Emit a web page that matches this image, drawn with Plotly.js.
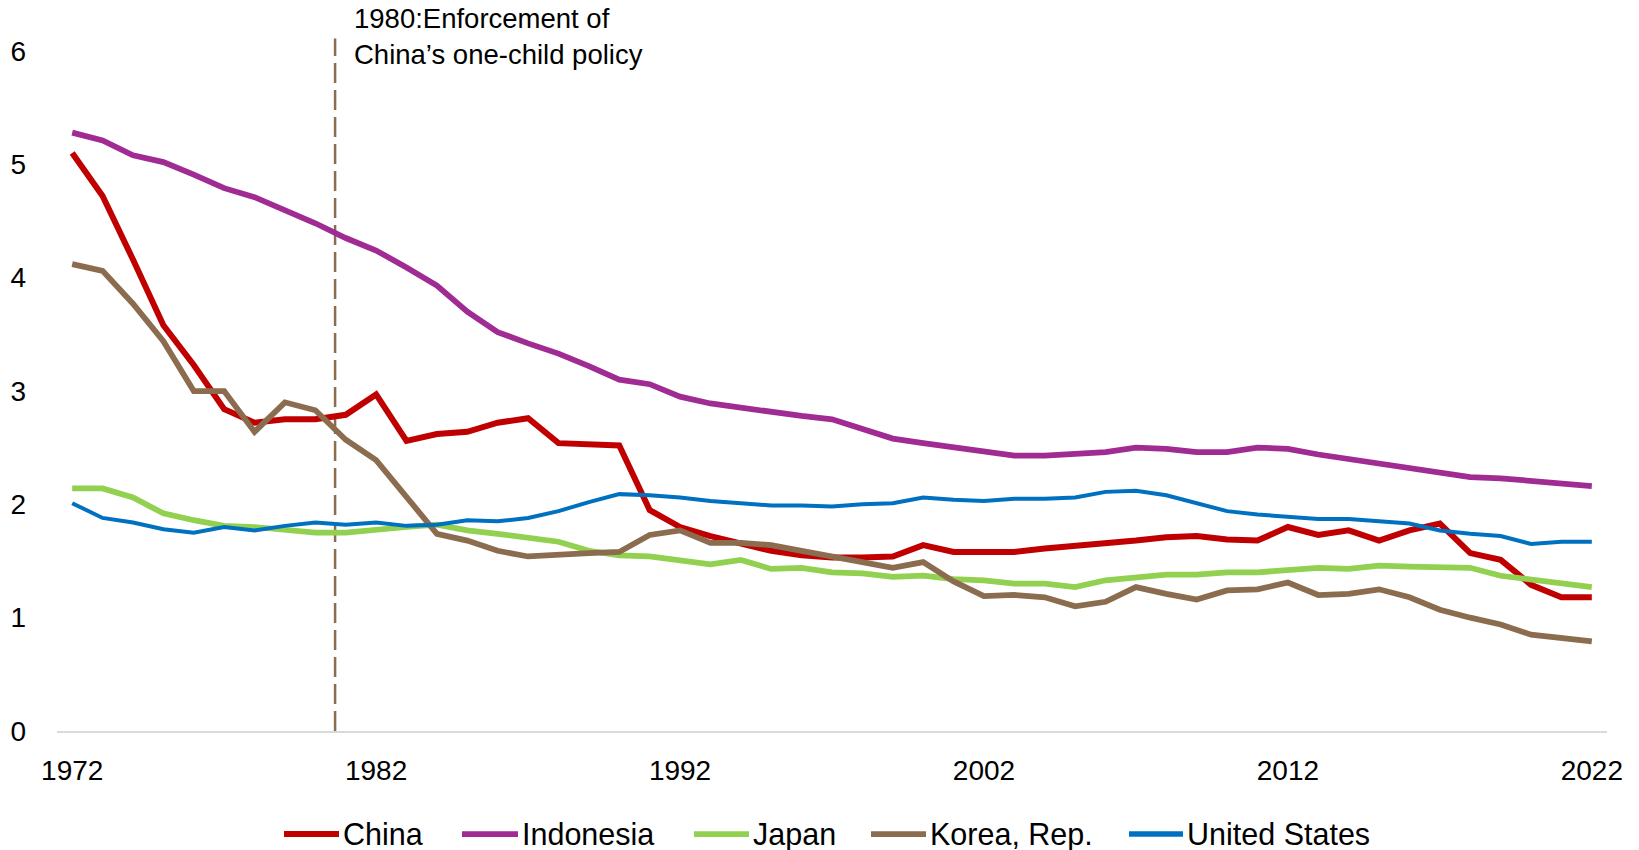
<!DOCTYPE html>
<html>
<head>
<meta charset="utf-8">
<script src="https://cdn.plot.ly/plotly-3.0.1.min.js"></script>
<style>
  html, body { margin: 0; padding: 0; background: #ffffff; }
  #chart { width: 1639px; height: 850px; }
</style>
</head>
<body>
<div id="chart"></div>
<script>
// Total fertility rate (births per woman), 1972-2022
const years = [
  1972, 1973, 1974, 1975, 1976, 1977, 1978, 1979, 1980, 1981,
  1982, 1983, 1984, 1985, 1986, 1987, 1988, 1989, 1990, 1991,
  1992, 1993, 1994, 1995, 1996, 1997, 1998, 1999, 2000, 2001,
  2002, 2003, 2004, 2005, 2006, 2007, 2008, 2009, 2010, 2011,
  2012, 2013, 2014, 2015, 2016, 2017, 2018, 2019, 2020, 2021,
  2022
];

const china = [
  5.10, 4.72, 4.16, 3.58, 3.23, 2.84, 2.72, 2.75, 2.75, 2.79,
  2.97, 2.56, 2.62, 2.64, 2.72, 2.76, 2.54, 2.53, 2.52, 1.95,
  1.80, 1.72, 1.65, 1.59, 1.55, 1.53, 1.53, 1.54, 1.64, 1.58,
  1.58, 1.58, 1.61, 1.63, 1.65, 1.68, 1.71, 1.72, 1.69, 1.68,
  1.80, 1.73, 1.77, 1.68, 1.77, 1.83, 1.57, 1.51, 1.29, 1.18,
  1.18
];

const indonesia = [
  5.28, 5.21, 5.08, 5.02, 4.91, 4.79, 4.71, 4.60, 4.48, 4.35,
  4.24, 4.09, 3.93, 3.70, 3.52, 3.42, 3.33, 3.22, 3.10, 3.06,
  2.95, 2.89, 2.85, 2.81, 2.78, 2.75, 2.67, 2.58, 2.54, 2.50,
  2.46, 2.43, 2.43, 2.44, 2.46, 2.50, 2.49, 2.46, 2.46, 2.50,
  2.49, 2.44, 2.40, 2.35, 2.32, 2.27, 2.24, 2.23, 2.21, 2.19,
  2.16
];

const japan = [
  2.14, 2.14, 2.06, 1.92, 1.86, 1.81, 1.80, 1.77, 1.75, 1.75,
  1.78, 1.80, 1.82, 1.77, 1.74, 1.71, 1.67, 1.59, 1.55, 1.54,
  1.51, 1.47, 1.51, 1.43, 1.44, 1.40, 1.39, 1.36, 1.37, 1.34,
  1.33, 1.30, 1.30, 1.27, 1.33, 1.35, 1.38, 1.38, 1.40, 1.40,
  1.42, 1.44, 1.43, 1.46, 1.45, 1.45, 1.44, 1.37, 1.34, 1.31,
  1.27
];

const korea = [
  4.12, 4.06, 3.77, 3.44, 3.00, 3.00, 2.64, 2.90, 2.83, 2.57,
  2.39, 2.07, 1.74, 1.68, 1.59, 1.54, 1.56, 1.57, 1.58, 1.73,
  1.77, 1.66, 1.66, 1.64, 1.59, 1.54, 1.48, 1.44, 1.49, 1.32,
  1.19, 1.20, 1.18, 1.10, 1.14, 1.27, 1.21, 1.16, 1.24, 1.25,
  1.31, 1.20, 1.21, 1.25, 1.18, 1.07, 1.00, 0.94, 0.85, 0.82,
  0.79
];

const unitedStates = [
  2.01, 1.88, 1.84, 1.78, 1.75, 1.80, 1.77, 1.81, 1.84, 1.82,
  1.84, 1.81, 1.82, 1.86, 1.85, 1.88, 1.94, 2.02, 2.09, 2.08,
  2.06, 2.03, 2.01, 1.99, 1.99, 1.98, 2.00, 2.01, 2.06, 2.04,
  2.03, 2.05, 2.05, 2.06, 2.11, 2.12, 2.08, 2.01, 1.94, 1.91,
  1.89, 1.87, 1.87, 1.85, 1.83, 1.77, 1.74, 1.72, 1.65, 1.67,
  1.67
];

const seriesNames = ['China', 'Indonesia', 'Japan', 'Korea, Rep.', 'United States'];
const seriesValues = [china, indonesia, japan, korea, unitedStates];
const seriesColors = ['#C00000', '#A02B93', '#92D050', '#8B6C4F', '#0070C0'];
const seriesWidths = [6, 5.75, 5.75, 5.75, 4];

const xTicks = [1972, 1982, 1992, 2002, 2012, 2022];
const yTicks = [0, 1, 2, 3, 4, 5, 6];

// Policy marker: position and label
const policyX = 1980.65;
const policyTop = 6.11;
const policyLabel = '1980:Enforcement of<br>China\u2019s one-child policy';

const FONT = '"Liberation Sans", Arial, sans-serif';

// Page geometry (pixels)
const W = 1639, H = 850;
const M = { l: 57, r: 32, t: 34, b: 119 };
const plotW = W - M.l - M.r;
const plotH = H - M.t - M.b;
const paperX = px => (px - M.l) / plotW;
const paperY = py => (H - M.b - py) / plotH;

// Legend row below the axis: sample line start/end and label start, in pixels
const legendY = 834;
const legendLineStart = [284, 462, 694, 871, 1129];
const legendLineEnd = [339, 518, 749, 926, 1183];
const legendTextStart = [342, 521, 752, 929, 1186];

const traces = seriesNames.map((name, i) => ({
  type: 'scatter',
  mode: 'lines',
  name: name,
  x: years,
  y: seriesValues[i],
  line: { color: seriesColors[i], width: seriesWidths[i], shape: 'linear' },
  showlegend: false,
  hoverinfo: 'x+y+name'
}));

const shapes = [{
  type: 'line',
  xref: 'x',
  yref: 'y',
  x0: policyX,
  x1: policyX,
  y0: 0,
  y1: policyTop,
  line: { color: '#8B6C4F', width: 2.5, dash: '20px,7px' },
  layer: 'below'
}];

const annotations = [{
  xref: 'x',
  yref: 'paper',
  x: policyX,
  xshift: 17,
  xanchor: 'left',
  y: paperY(36),
  yanchor: 'middle',
  align: 'left',
  showarrow: false,
  text: policyLabel,
  font: { family: FONT, size: 27.5, color: '#000000' }
}];

seriesNames.forEach((name, i) => {
  shapes.push({
    type: 'line',
    xref: 'paper',
    yref: 'paper',
    x0: paperX(legendLineStart[i]),
    x1: paperX(legendLineEnd[i]),
    y0: paperY(legendY),
    y1: paperY(legendY),
    line: { color: seriesColors[i], width: Math.max(seriesWidths[i], 5.5) }
  });
  annotations.push({
    xref: 'paper',
    yref: 'paper',
    x: paperX(legendTextStart[i]),
    xanchor: 'left',
    y: paperY(legendY),
    yanchor: 'middle',
    showarrow: false,
    borderpad: 0,
    text: name,
    font: { family: FONT, size: 30.5, color: '#000000' }
  });
});

const layout = {
  width: W,
  height: H,
  paper_bgcolor: '#ffffff',
  plot_bgcolor: '#ffffff',
  margin: { l: M.l, r: M.r, t: M.t, b: M.b, autoexpand: false },
  font: { family: FONT, color: '#000000', size: 28 },
  showlegend: false,
  xaxis: {
    range: [1971.5, 2022.5],
    tickvals: xTicks,
    ticktext: xTicks.map(String),
    showgrid: false,
    zeroline: false,
    showline: true,
    linecolor: '#D9D9D9',
    linewidth: 2,
    ticks: '',
    ticklabelstandoff: 13,
    tickfont: { family: FONT, size: 28, color: '#000000' },
    fixedrange: true
  },
  yaxis: {
    range: [0, 6.15],
    tickvals: yTicks,
    ticktext: yTicks.map(String),
    showgrid: false,
    zeroline: false,
    showline: false,
    ticks: '',
    ticklabelstandoff: 30,
    tickfont: { family: FONT, size: 28, color: '#000000' },
    fixedrange: true
  },
  shapes: shapes,
  annotations: annotations
};

Plotly.newPlot('chart', traces, layout, { displayModeBar: false, staticPlot: true });
</script>
</body>
</html>
